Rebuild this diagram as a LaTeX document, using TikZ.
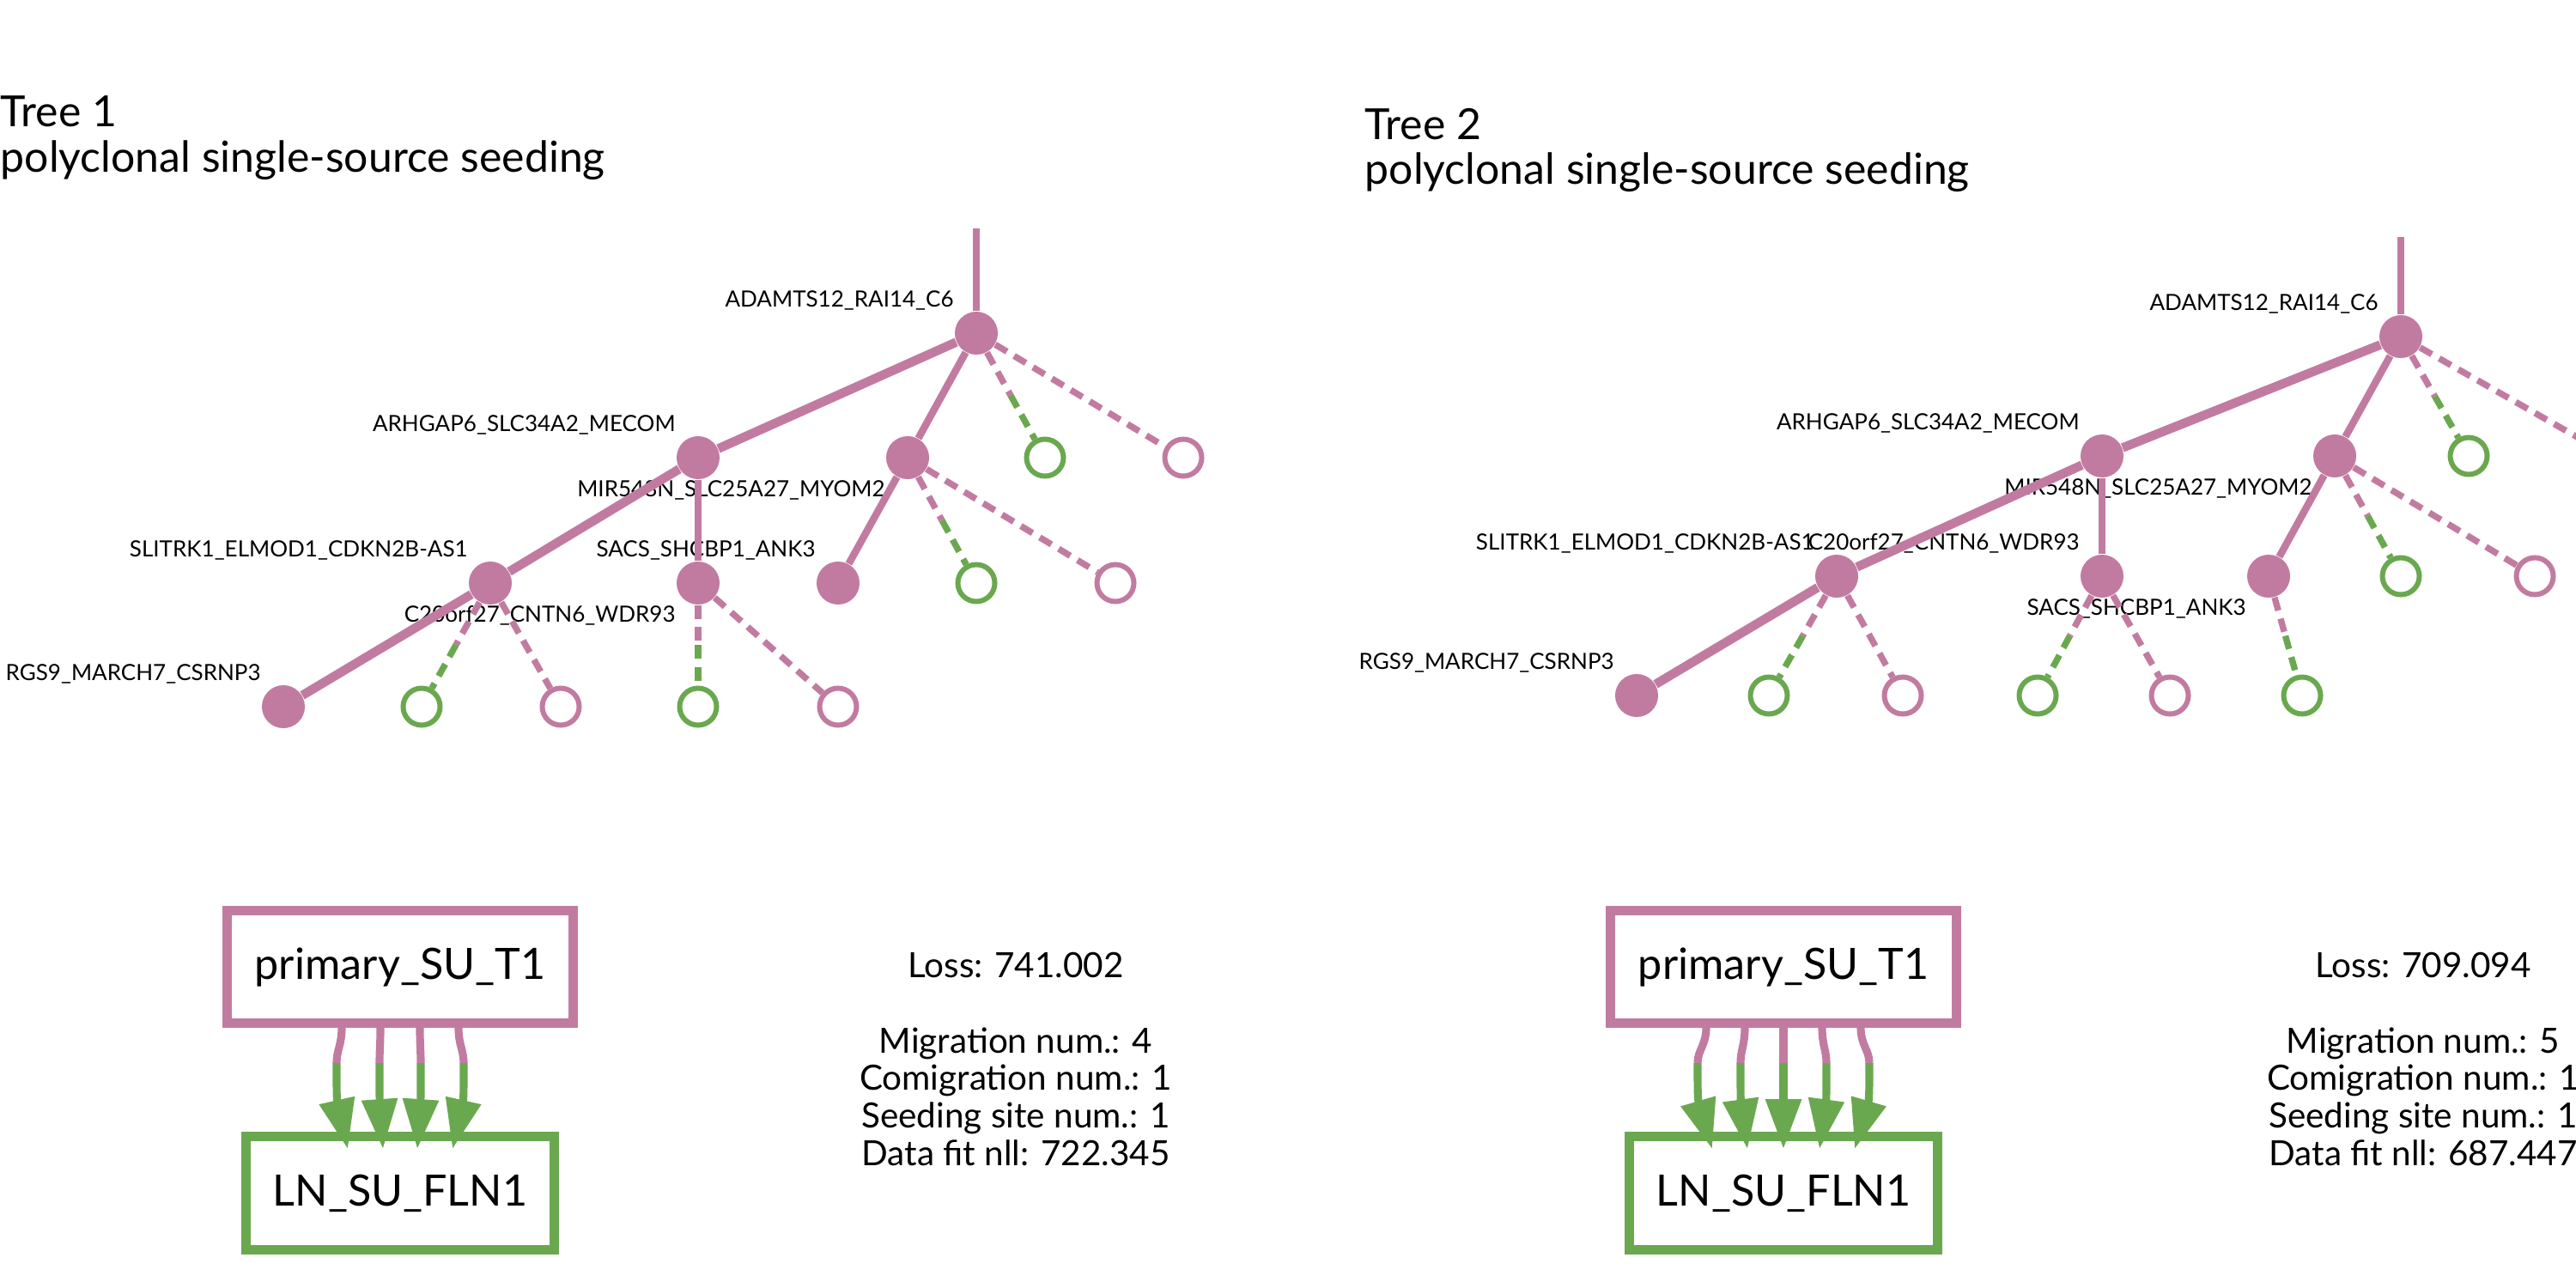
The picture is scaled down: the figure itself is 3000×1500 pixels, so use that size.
\documentclass[tikz,border=0pt]{standalone}
\usepackage{fontspec}
\setmainfont{Lato}
\usepackage{tikz}
\usetikzlibrary{arrows.meta,%
                shapes,positioning}
\usetikzlibrary{calc}
\definecolor{PinkCol}{HTML}{C27BA0}
\definecolor{GreenCol}{HTML}{6AA84F}

\begin{document}
\begin{tikzpicture}[x=0.01cm, y=-0.01cm]
  \useasboundingbox (0,0) rectangle (3000,1500);
  \tikzset{CloneStyle/.style = {shape=circle, fill=PinkCol, inner sep=0pt, minimum size=0.5cm}}
  \tikzset{PinkLeafStyle/.style = {shape=circle, draw=PinkCol, line width=1.7pt, inner sep=0pt, minimum size=0.43cm}}
  \tikzset{GreenLeafStyle/.style = {shape=circle, draw=GreenCol, line width=1.7pt, inner sep=0pt, minimum size=0.43cm}}
  \tikzset{LabelStyle/.style = {inner sep=0pt, text=black, font=\fontsize{7.4}{8}\selectfont}}
  \tikzset{EdgeStyle/.style   = {draw=PinkCol, line width=2.4pt}}
  \tikzset{TrunkStyle/.style   = {draw=PinkCol, line width=3pt}}
  \tikzset{DashStyle/.style   = {line width=2.1pt, dash pattern=on 4.5pt off 2.8pt}}
  \tikzset{SiteStyle/.style = {draw, line width=3.1pt, shape=rectangle, inner sep=0pt, text=black, font=\fontsize{14.3}{16}\selectfont}}
  \tikzset{MigStyle/.style   = {line width=2.6pt}}
  \tikzset{TitleStyle/.style = {inner sep=0pt, align=left, anchor=base west, font=\fontsize{14.2}{14.8}\selectfont}}
  \tikzset{StatStyle/.style = {inner sep=0pt, align=center, anchor=base, font=\fontsize{11.5}{12.4}\selectfont}}

  % Tree 1
  \node(t1)[TitleStyle] at (0,200){Tree 1\\polyclonal single-source seeding};

  \coordinate(0) at (1137,266);
  \node(1)[CloneStyle] at (1137,388){};
  \node(2)[CloneStyle] at (813,533){};
  \node(3)[CloneStyle] at (1057,533){};
  \node(4)[GreenLeafStyle] at (1217,533){};
  \node(5)[PinkLeafStyle] at (1378,533){};
  \node(6)[CloneStyle] at (571,679){};
  \node(7)[CloneStyle] at (813,679){};
  \node(8)[CloneStyle] at (976,679){};
  \node(9)[GreenLeafStyle] at (1137,679){};
  \node(10)[PinkLeafStyle] at (1299,679){};
  \node(11)[CloneStyle] at (330,823){};
  \node(12)[GreenLeafStyle] at (491,823){};
  \node(13)[PinkLeafStyle] at (653,823){};
  \node(14)[GreenLeafStyle] at (813,823){};
  \node(15)[PinkLeafStyle] at (976,823){};

  \node(l1)[LabelStyle, anchor=south east] at (1.west |- 1.north){ADAMTS12\_RAI14\_C6};
  \node(l2)[LabelStyle, anchor=south east] at (2.west |- 2.north){ARHGAP6\_SLC34A2\_MECOM};
  \node(l3)[LabelStyle, anchor=north east] at (3.west |- 3.south){MIR548N\_SLC25A27\_MYOM2};
  \node(l6)[LabelStyle, anchor=south east] at (6.west |- 6.north){SLITRK1\_ELMOD1\_CDKN2B-AS1};
  \node(l7)[LabelStyle, anchor=north east] at (7.west |- 7.south){C20orf27\_CNTN6\_WDR93};
  \node(l8)[LabelStyle, anchor=south east] at (8.west |- 8.north){SACS\_SHCBP1\_ANK3};
  \node(l11)[LabelStyle, anchor=south east] at (11.west |- 11.north){RGS9\_MARCH7\_CSRNP3};

     \draw[EdgeStyle](0) -- (1);
     \draw[TrunkStyle](1) -- (2);
     \draw[EdgeStyle](1) -- (3);
     \draw[DashStyle, PinkCol](1) -- ($(1)!.5!(4)$);
     \draw[DashStyle, GreenCol]($(1)!.5!(4)$) -- (4);
     \draw[DashStyle, PinkCol](1) -- (5);
     \draw[TrunkStyle](2) -- (6);
     \draw[EdgeStyle](2) -- (7);
     \draw[EdgeStyle](3) -- (8);
     \draw[DashStyle, PinkCol](3) -- ($(3)!.5!(9)$);
     \draw[DashStyle, GreenCol]($(3)!.5!(9)$) -- (9);
     \draw[DashStyle, PinkCol](3) -- (10);
     \draw[TrunkStyle](6) -- (11);
     \draw[DashStyle, PinkCol](6) -- ($(6)!.5!(12)$);
     \draw[DashStyle, GreenCol]($(6)!.5!(12)$) -- (12);
     \draw[DashStyle, PinkCol](6) -- (13);
     \draw[DashStyle, PinkCol](7) -- ($(7)!.5!(14)$);
     \draw[DashStyle, GreenCol]($(7)!.5!(14)$) -- (14);
     \draw[DashStyle, PinkCol](7) -- (15);

  \node(p1)[SiteStyle, draw=PinkCol, minimum width=4.02cm, minimum height=1.31cm] at (466,1126){primary\_SU\_T1};
  \node(ln1)[SiteStyle, draw=GreenCol, minimum width=3.59cm, minimum height=1.32cm, below=1.21cm of p1]{LN\_SU\_FLN1};
  \node(s1)[StatStyle] at (1183,1357){Loss: 741.002\\ \\Migration num.: 4\\Comigration num.: 1\\Seeding site num.: 1\\Data fit nll: 722.345};

  \foreach \s/\m/\t in {-68/-74/-61, -23/-24/-20, 23/24/20, 68/74/61}{
     \draw[MigStyle, PinkCol]($(p1.south)+(\s,0)$) .. controls +(0,20) and +(0,-15) .. ($(p1.south)+(\m,41)$);
     \draw[MigStyle, GreenCol, -{Triangle[length=16.5pt, width=11.4pt]}]($(p1.south)+(\m,41)$) .. controls +(0,25) and +({(\m)-(\t)},-58) .. ($(ln1.north)+(\t,20)$);
  }

  % Tree 2
  \node(t2)[TitleStyle] at (1589,215){Tree 2\\polyclonal single-source seeding};

  \coordinate(20) at (2796,276);
  \node(21)[CloneStyle] at (2796,392){};
  \node(22)[CloneStyle] at (2448,531){};
  \node(23)[CloneStyle] at (2719,531){};
  \node(24)[GreenLeafStyle] at (2875,531){};
  \node(25)[PinkLeafStyle] at (3040,531){};
  \node(26)[CloneStyle] at (2139,671){};
  \node(27)[CloneStyle] at (2448,671){};
  \node(28)[CloneStyle] at (2642,671){};
  \node(29)[GreenLeafStyle] at (2796,671){};
  \node(30)[PinkLeafStyle] at (2952,671){};
  \node(31)[CloneStyle] at (1906,810){};
  \node(32)[GreenLeafStyle] at (2060,810){};
  \node(33)[PinkLeafStyle] at (2216,810){};
  \node(34)[GreenLeafStyle] at (2373,810){};
  \node(35)[PinkLeafStyle] at (2527,810){};
  \node(36)[GreenLeafStyle] at (2681,810){};

  \node(l21)[LabelStyle, anchor=south east] at (21.west |- 21.north){ADAMTS12\_RAI14\_C6};
  \node(l22)[LabelStyle, anchor=south east] at (22.west |- 22.north){ARHGAP6\_SLC34A2\_MECOM};
  \node(l23)[LabelStyle, anchor=north east] at (23.west |- 23.south){MIR548N\_SLC25A27\_MYOM2};
  \node(l26)[LabelStyle, anchor=south east] at (26.west |- 26.north){SLITRK1\_ELMOD1\_CDKN2B-AS1};
  \node(l27)[LabelStyle, anchor=south east] at (27.west |- 27.north){C20orf27\_CNTN6\_WDR93};
  \node(l28)[LabelStyle, anchor=north east] at (28.west |- 28.south){SACS\_SHCBP1\_ANK3};
  \node(l31)[LabelStyle, anchor=south east] at (31.west |- 31.north){RGS9\_MARCH7\_CSRNP3};

     \draw[EdgeStyle](20) -- (21);
     \draw[TrunkStyle](21) -- (22);
     \draw[EdgeStyle](21) -- (23);
     \draw[DashStyle, PinkCol](21) -- ($(21)!.5!(24)$);
     \draw[DashStyle, GreenCol]($(21)!.5!(24)$) -- (24);
     \draw[DashStyle, PinkCol](21) -- (25);
     \draw[TrunkStyle](22) -- (26);
     \draw[EdgeStyle](22) -- (27);
     \draw[EdgeStyle](23) -- (28);
     \draw[DashStyle, PinkCol](23) -- ($(23)!.5!(29)$);
     \draw[DashStyle, GreenCol]($(23)!.5!(29)$) -- (29);
     \draw[DashStyle, PinkCol](23) -- (30);
     \draw[TrunkStyle](26) -- (31);
     \draw[DashStyle, PinkCol](26) -- ($(26)!.5!(32)$);
     \draw[DashStyle, GreenCol]($(26)!.5!(32)$) -- (32);
     \draw[DashStyle, PinkCol](26) -- (33);
     \draw[DashStyle, PinkCol](27) -- ($(27)!.5!(34)$);
     \draw[DashStyle, GreenCol]($(27)!.5!(34)$) -- (34);
     \draw[DashStyle, PinkCol](27) -- (35);
     \draw[DashStyle, PinkCol](28) -- ($(28)!.5!(36)$);
     \draw[DashStyle, GreenCol]($(28)!.5!(36)$) -- (36);

  \node(p2)[SiteStyle, draw=PinkCol, minimum width=4.02cm, minimum height=1.31cm] at (2077,1126){primary\_SU\_T1};
  \node(ln2)[SiteStyle, draw=GreenCol, minimum width=3.59cm, minimum height=1.32cm, below=1.21cm of p2]{LN\_SU\_FLN1};
  \node(s2)[StatStyle] at (2822,1357){Loss: 709.094\\ \\Migration num.: 5\\Comigration num.: 1\\Seeding site num.: 1\\Data fit nll: 687.447};

  \foreach \s/\m/\t in {-90/-100/-83, -45/-50/-42, 0/0/0, 45/50/42, 90/100/83}{
     \draw[MigStyle, PinkCol]($(p2.south)+(\s,0)$) .. controls +(0,20) and +(0,-15) .. ($(p2.south)+(\m,41)$);
     \draw[MigStyle, GreenCol, -{Triangle[length=16.5pt, width=11.4pt]}]($(p2.south)+(\m,41)$) .. controls +(0,25) and +({(\m)-(\t)},-58) .. ($(ln2.north)+(\t,20)$);
  }

 \end{tikzpicture}
\end{document}
